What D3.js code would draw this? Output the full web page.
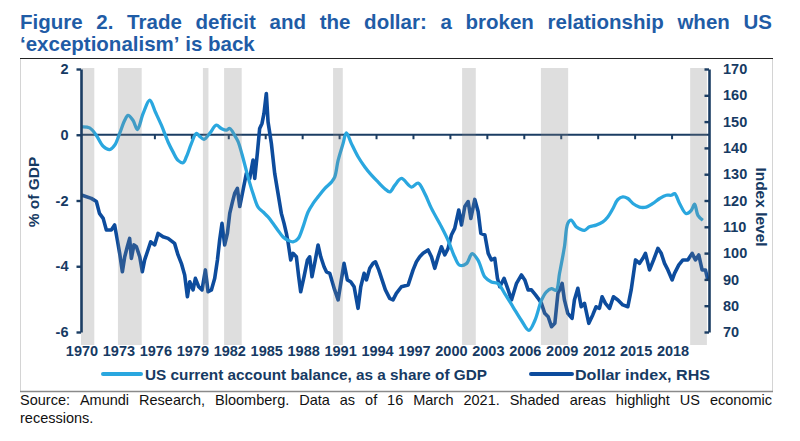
<!DOCTYPE html>
<html><head><meta charset="utf-8">
<script src="https://cdn.jsdelivr.net/npm/d3@7"></script>
<style>body{margin:0;background:#fff}svg{display:block}text{font-family:"Liberation Sans",Arial,sans-serif}</style>
</head><body>
<svg id="c" width="800" height="441"></svg>
<script>
// ---------------- DATA ----------------
const caYears=[1970.03,1970.7,1971.25,1971.8,1972.33,1972.73,1973.14,1973.55,1973.82,1974.22,1974.58,1975.04,1975.58,1976.04,1976.53,1977.07,1977.47,1977.88,1978.29,1978.56,1978.96,1979.37,1979.64,1979.99,1980.45,1980.99,1981.4,1981.8,1982.08,1982.48,1982.75,1983.08,1983.56,1983.97,1984.38,1984.79,1985.19,1985.6,1986.0,1986.41,1986.81,1987.22,1987.63,1988.03,1988.44,1988.85,1989.25,1989.79,1990.34,1990.61,1990.88,1991.28,1991.55,1991.96,1992.5,1993.05,1993.59,1994.13,1994.67,1995.08,1995.48,1996.02,1996.84,1997.38,1997.92,1998.46,1999.27,1999.81,2000.35,2000.76,2001.3,2001.76,2002.25,2002.8,2003.33,2003.87,2004.41,2005.09,2005.77,2006.37,2006.86,2007.39,2007.8,2008.21,2008.59,2008.86,2009.26,2009.53,2009.8,2010.21,2010.48,2010.88,2011.29,2011.83,2012.38,2012.78,2013.19,2013.6,2014.0,2014.41,2014.82,2015.36,2015.9,2016.45,2016.99,2017.53,2017.94,2018.21,2018.61,2019.15,2019.56,2019.83,2020.1,2020.5];
const caValues=[0.24,0.21,-0.02,-0.35,-0.45,-0.32,0.04,0.44,0.59,0.44,0.16,0.64,1.05,0.69,0.29,-0.22,-0.52,-0.78,-0.85,-0.67,-0.27,0.04,-0.05,-0.14,0.04,0.29,0.19,0.14,0.19,-0.02,-0.2,-0.6,-1.28,-1.79,-2.2,-2.35,-2.5,-2.7,-2.91,-3.11,-3.21,-3.26,-3.16,-2.8,-2.35,-2.09,-1.89,-1.64,-1.44,-1.28,-0.78,-0.27,0.06,-0.27,-0.67,-0.98,-1.23,-1.44,-1.64,-1.74,-1.54,-1.33,-1.59,-1.47,-1.79,-2.24,-2.8,-3.21,-3.72,-3.97,-3.92,-3.62,-3.82,-4.33,-4.48,-4.53,-4.83,-5.24,-5.65,-5.95,-5.65,-5.04,-4.78,-4.68,-4.73,-4.22,-3.41,-2.7,-2.6,-2.8,-2.86,-2.91,-2.8,-2.75,-2.65,-2.5,-2.25,-1.97,-1.89,-1.94,-2.09,-2.2,-2.2,-2.09,-1.94,-1.84,-1.84,-1.79,-2.09,-2.4,-2.3,-2.11,-2.45,-2.6];

const dollarYears=[1970.03,1970.84,1971.25,1971.5,1971.8,1972.06,1972.46,1972.73,1972.95,1973.14,1973.36,1973.55,1973.76,1973.95,1974.09,1974.3,1974.5,1974.77,1974.98,1975.17,1975.44,1975.66,1975.98,1976.26,1976.66,1977.07,1977.6,1977.88,1978.15,1978.42,1978.64,1978.83,1979.1,1979.29,1979.56,1979.83,1980.1,1980.32,1980.59,1980.86,1981.08,1981.26,1981.45,1981.67,1981.89,1982.08,1982.27,1982.48,1982.7,1982.89,1983.16,1983.43,1983.7,1983.97,1984.11,1984.32,1984.51,1984.7,1984.86,1985.05,1985.19,1985.46,1985.73,1986.0,1986.27,1986.49,1986.68,1986.81,1987.03,1987.22,1987.49,1987.68,1987.84,1988.11,1988.39,1988.57,1988.76,1989.03,1989.25,1989.47,1989.74,1989.93,1990.2,1990.6,1990.88,1991.14,1991.36,1991.63,1991.9,1992.18,1992.5,1992.72,1992.99,1993.18,1993.45,1993.72,1993.91,1994.18,1994.45,1994.72,1995.07,1995.34,1995.61,1996.02,1996.57,1996.97,1997.24,1997.51,1997.78,1998.19,1998.46,1998.73,1999.0,1999.27,1999.54,1999.81,2000.08,2000.35,2000.68,2000.9,2001.17,2001.44,2001.66,2001.98,2002.25,2002.47,2002.8,2003.07,2003.33,2003.6,2003.82,2004.01,2004.36,2004.69,2004.96,2005.37,2005.77,2006.04,2006.31,2006.58,2006.91,2007.12,2007.39,2007.66,2007.94,2008.21,2008.48,2008.73,2008.86,2009.07,2009.26,2009.53,2009.88,2010.07,2010.35,2010.62,2010.89,2011.24,2011.56,2011.83,2012.1,2012.32,2012.59,2012.92,2013.24,2013.6,2014.0,2014.41,2014.68,2015.03,2015.36,2015.63,2015.84,2016.17,2016.5,2016.85,2017.12,2017.39,2017.66,2018.01,2018.2,2018.55,2018.88,2019.28,2019.63,2019.9,2020.17,2020.44,2020.71,2020.9];
const dollarValues=[122.1,120.8,119.6,115.1,113.2,108.8,108.8,110.7,105.0,99.9,92.9,98.6,102.4,105.6,98.0,103.1,102.4,98.6,92.9,97.4,101.2,104.3,103.1,107.5,106.2,105.6,103.7,99.3,96.1,91.7,83.4,89.1,86.0,90.4,87.2,86.0,93.6,85.3,86.0,90.4,97.4,105.0,111.3,103.1,107.5,115.1,118.9,122.7,124.6,117.7,124.0,130.3,128.4,135.4,128.4,137.9,147.4,149.3,153.1,160.7,149.9,141.7,130.3,122.7,115.1,111.3,107.5,104.3,97.4,99.9,98.6,91.0,85.3,91.0,97.4,98.6,91.0,97.4,103.1,98.6,94.8,92.9,92.3,86.0,82.2,89.8,96.1,89.8,89.1,87.2,79.0,87.2,92.3,89.8,94.2,96.1,96.7,93.6,89.8,86.0,82.8,82.2,84.7,87.2,87.9,93.6,96.7,98.6,99.9,101.2,98.6,94.2,98.6,102.4,99.3,101.8,106.9,109.4,116.4,110.7,117.7,119.6,113.2,120.4,115.8,107.5,106.9,99.9,97.4,98.0,90.4,87.2,90.4,86.0,82.2,88.5,91.7,89.8,86.0,86.0,84.1,82.8,80.9,77.1,75.8,72.0,73.3,84.7,86.0,88.5,82.2,77.1,75.2,82.2,86.6,79.6,80.9,73.3,76.5,79.6,79.0,83.4,80.9,79.0,83.4,82.2,80.3,79.6,86.0,97.4,96.1,98.0,99.9,93.6,97.4,101.8,99.9,96.1,93.6,89.8,92.3,95.5,97.4,97.4,99.9,97.4,99.3,93.6,93.6,89.8];

const recessionStarts=[1970.0,1973.0,1979.9,1981.62,1990.47,2000.95,2007.35,2019.47];
const recessionEnds=[1971.08,1974.93,1980.35,1983.05,1991.26,2002.06,2009.56,2020.83];

const xTickYears=d3.range(1970,2019,3);
const leftTicks=[-6,-4,-2,0,2];
const rightTicks=d3.range(70,171,10);

const titleLines=["Figure 2. Trade deficit and the dollar: a broken relationship when US","\u2018exceptionalism\u2019 is back"];
const legendLabels=["US current account balance, as a share of GDP","Dollar index, RHS"];
const sourceLines=["Source: Amundi Research, Bloomberg. Data as of 16 March 2021. Shaded areas highlight US economic","recessions."];
const leftAxisTitle="% of GDP";
const rightAxisTitle="Index level";

// ---------------- STYLE ----------------
const navy="#163a63", axisCol="#1b3d63", lightBlue="#2aa7df", darkBlue="#0d4c9d", titleBlue="#1f5ca6";

const svg=d3.select("#c");
const X0=81, X1=709, YT=69, YB=332;
const x=d3.scaleLinear().domain([1970,2021]).range([X0,X1]);
const yL=d3.scaleLinear().domain([-6,2]).range([YB,YT]);
const yR=d3.scaleLinear().domain([70,170]).range([YB,YT]);

// frame
svg.append("rect").attr("x",20.5).attr("y",58.5).attr("width",752).attr("height",333).attr("fill","none").attr("stroke","#d4d4d4").attr("stroke-width",1);
svg.append("line").attr("x1",20).attr("x2",773).attr("y1",58.5).attr("y2",58.5).attr("stroke","#222").attr("stroke-width",1.2);
svg.append("line").attr("x1",20).attr("x2",773).attr("y1",391.5).attr("y2",391.5).attr("stroke","#8a8a8a").attr("stroke-width",1.5);

// justified text helper
function textLine(str,x0,x1,y,attrs,justify){
  const g=svg.append("g");
  const words=str.split(" ");
  const nodes=words.map(w=>{const t=g.append("text").attr("y",y).text(w);Object.entries(attrs).forEach(([k,v])=>t.attr(k,v));return t;});
  const widths=nodes.map(n=>n.node().getComputedTextLength());
  const tmp=g.append("text").text("a a");Object.entries(attrs).forEach(([k,v])=>tmp.attr(k,v));
  const tmp2=g.append("text").text("aa");Object.entries(attrs).forEach(([k,v])=>tmp2.attr(k,v));
  const sp=tmp.node().getComputedTextLength()-tmp2.node().getComputedTextLength();
  tmp.remove();tmp2.remove();
  const gap=(justify&&words.length>1)?(x1-x0-d3.sum(widths))/(words.length-1):sp;
  let cx=x0;
  nodes.forEach((n,i)=>{n.attr("x",cx);cx+=widths[i]+gap;});
}

// title
const tAttr={"font-size":"20.5px","font-weight":"bold",fill:titleBlue};
textLine(titleLines[0],20,772,28.5,tAttr,true);
textLine(titleLines[1],20,772,50.5,tAttr,false);

// lines
const caData=caYears.map((d,i)=>[d,caValues[i]]);
const dxData=dollarYears.map((d,i)=>[d,dollarValues[i]]);

// zero line
svg.append("line").attr("x1",X0).attr("x2",X1).attr("y1",yL(0)).attr("y2",yL(0)).attr("stroke",axisCol).attr("stroke-width",2.2);
// x ticks on zero line
svg.append("g").selectAll("line").data(xTickYears.filter(d=>d>1970)).join("line")
  .attr("x1",d=>x(d)).attr("x2",d=>x(d)).attr("y1",yL(0)).attr("y2",yL(0)+4.5).attr("stroke",axisCol).attr("stroke-width",2);

svg.append("path").datum(dxData).attr("fill","none").attr("stroke",darkBlue).attr("stroke-width",3.6).attr("stroke-linejoin","round")
  .attr("d",d3.line().x(d=>x(d[0])).y(d=>yR(d[1])));
svg.append("path").datum(caData).attr("fill","none").attr("stroke",lightBlue).attr("stroke-width",3.3).attr("stroke-linejoin","round")
  .attr("d",d3.line().curve(d3.curveCatmullRom.alpha(0.5)).x(d=>x(d[0])).y(d=>yL(d[1])));

// recession bands (semi-transparent, on top)
svg.append("g").selectAll("rect").data(recessionStarts).join("rect")
  .attr("x",(d)=>x(d)).attr("width",(d,i)=>x(recessionEnds[i])-x(d))
  .attr("y",YT-1).attr("height",345-YT+1).attr("fill","#808080").attr("fill-opacity",0.26);

// left axis
const gl=svg.append("g").attr("transform",`translate(${X0},0)`)
  .call(d3.axisLeft(yL).tickValues(leftTicks).tickSize(4.5).tickSizeOuter(0).tickPadding(8).tickFormat(d3.format("d")));
gl.select(".domain").attr("stroke",axisCol).attr("stroke-width",2.6);
gl.selectAll(".tick line").attr("stroke",axisCol).attr("stroke-width",2.4);
gl.selectAll(".tick text").attr("fill",navy).attr("font-size","14.5px").attr("font-weight","bold").attr("font-family","Liberation Sans, Arial, sans-serif").text(d=>d<0?"-"+Math.abs(d):d);

// right axis (ticks inward)
const gr=svg.append("g").attr("transform",`translate(${X1},0)`)
  .call(d3.axisRight(yR).tickValues(rightTicks).tickSize(-4.5).tickSizeOuter(0).tickPadding(14));
gr.select(".domain").attr("stroke",axisCol).attr("stroke-width",2.6);
gr.selectAll(".tick line").attr("stroke",axisCol).attr("stroke-width",2.4);
gr.selectAll(".tick text").attr("fill",navy).attr("font-size","14.5px").attr("font-weight","bold").attr("font-family","Liberation Sans, Arial, sans-serif");

// bottom year labels
svg.append("g").selectAll("text").data(xTickYears).join("text")
  .attr("x",d=>x(d)+1).attr("y",356).attr("text-anchor","middle")
  .attr("font-size","14.5px").attr("font-weight","bold").attr("fill",navy).text(d=>d);

// axis titles
svg.append("text").attr("transform","translate(38.5,192) rotate(-90)").attr("text-anchor","middle")
  .attr("font-size","15.5px").attr("font-weight","bold").attr("fill",navy).text(leftAxisTitle);
svg.append("text").attr("transform","translate(755.5,207) rotate(90)").attr("text-anchor","middle")
  .attr("font-size","15.5px").attr("font-weight","bold").attr("fill",navy).text(rightAxisTitle);

// legend
const legColors=[lightBlue,darkBlue];
const legSw=[[103,141],[531,572]];
const legText=[[145,487],[575,710]];
legendLabels.forEach((lab,i)=>{
  svg.append("line").attr("x1",legSw[i][0]).attr("x2",legSw[i][1]).attr("y1",374).attr("y2",374)
    .attr("stroke",legColors[i]).attr("stroke-width",4).attr("stroke-linecap","round");
  svg.append("text").attr("x",legText[i][0]).attr("y",379.5).attr("font-size","15px").attr("font-weight","bold").attr("fill",navy)
    .attr("textLength",legText[i][1]-legText[i][0]).attr("lengthAdjust","spacingAndGlyphs").text(lab);
});

// source
const sAttr={"font-size":"14.5px",fill:"#111"};
textLine(sourceLines[0],20,772,405,sAttr,true);
textLine(sourceLines[1],20,772,423,sAttr,false);
</script>
</body></html>
